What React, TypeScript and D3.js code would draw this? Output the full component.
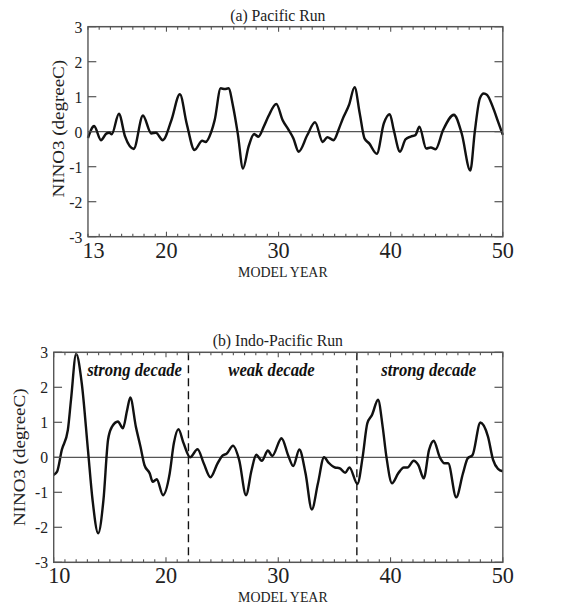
import React from "react";
import * as d3 from "d3";

const WIDTH = 565;
const HEIGHT = 606;
// the reference figure is a little narrower than it is drawn here
const SQUEEZE = 0.926;

// (a) Pacific Run
const pacificYears = [
  13.0, 13.55, 14.16, 14.65, 14.9, 15.12, 15.76, 16.31, 17.08, 17.9, 18.65, 19.06, 19.67,
  20.44, 21.2, 21.8, 22.5, 23.19, 23.5, 24.0, 24.3, 24.84, 25.2, 25.53, 25.95, 26.36, 26.83,
  27.32, 27.82, 28.2, 28.7, 29.11, 29.8, 30.36, 30.9, 31.32, 31.79, 32.56, 33.25, 33.94,
  34.35, 34.9, 35.4, 35.7, 36.28, 36.78, 37.24, 37.66, 38.07, 38.76, 39.39, 39.92, 40.27,
  40.83, 41.32, 41.79, 42.2, 42.56, 43.17, 43.58, 44.0, 44.68, 45.64, 46.33, 47.1, 47.5,
  47.95, 48.3, 48.6, 49.1, 49.57, 50.0,
];
const pacificValues = [
  -0.18, 0.16, -0.24, -0.05, -0.03, -0.07, 0.51, -0.14, -0.49, 0.46, -0.05, -0.03, -0.24,
  0.33, 1.07, 0.24, -0.52, -0.26, -0.29, 0.0, 0.33, 1.24, 1.22, 1.24, 0.71, -0.05, -1.05,
  -0.43, -0.07, -0.14, 0.16, 0.45, 0.79, 0.33, 0.05, -0.19, -0.57, -0.1, 0.27, -0.29,
  -0.16, -0.24, 0.1, 0.35, 0.76, 1.27, 0.52, -0.19, -0.33, -0.63, 0.24, 0.5, 0.05,
  -0.57, -0.22, -0.14, -0.1, 0.14, -0.48, -0.45, -0.5, 0.05, 0.48, -0.05, -1.11, 0.0,
  0.95, 1.09, 1.05, 0.71, 0.29, -0.09,
];

// (b) Indo-Pacific Run
const indoYears = [
  10.0, 10.3, 10.72, 11.26, 11.54, 12.0, 12.5, 13.05, 13.46, 13.96, 14.43, 14.84, 15.17,
  15.72, 16.16, 16.54, 16.82, 17.32, 17.73, 18.08, 18.55, 18.82, 19.18, 19.73, 20.33, 20.7,
  21.11, 21.57, 22.15, 22.81, 23.36, 23.96, 24.6, 25.01, 25.42, 25.97, 26.52, 27.13, 27.62,
  28.04, 28.53, 29.08, 29.46, 30.29, 30.92, 31.33, 31.88, 32.43, 32.99, 33.53, 34.08, 34.5,
  35.05, 35.46, 35.96, 36.34, 37.05, 37.52, 37.93, 38.35, 38.89, 39.3, 39.63, 40.13, 40.68,
  41.18, 41.51, 42.06, 42.47, 42.96, 43.43, 43.84, 44.39, 44.8, 45.13, 45.85, 46.45, 46.87,
  47.3, 48.0, 48.68, 49.13, 49.57, 50.0,
];
const indoValues = [
  -0.5, -0.41, 0.21, 0.78, 1.64, 2.95, 2.11, 0.21, -1.22, -2.17, -1.22, 0.5, 0.86,
  1.02, 0.83, 1.35, 1.71, 0.87, 0.3, -0.22, -0.46, -0.7, -0.63, -1.08, -0.46, 0.4,
  0.8, 0.4, 0.0, 0.23, -0.17, -0.57, -0.17, 0.04, 0.11, 0.33, -0.08, -1.08, -0.37,
  0.07, -0.1, 0.19, 0.04, 0.54, 0.02, -0.25, 0.22, -0.46, -1.49, -0.75, 0.0, -0.16,
  -0.29, -0.31, -0.44, -0.29, -0.76, 0.02, 0.97, 1.21, 1.64, 0.87, 0.02, -0.74, -0.46,
  -0.29, -0.29, -0.1, -0.22, -0.6, 0.21, 0.47, 0.0, -0.17, -0.17, -1.14, -0.46, -0.03,
  0.06, 0.99, 0.59, -0.07, -0.33, -0.4,
];

const pacificXTicks = [13, 20, 30, 40, 50];
const indoXTicks = [10, 20, 30, 40, 50];
const yTicks = [-3, -2, -1, 0, 1, 2, 3];

const decadeBreaks = [22, 37];
const decadeLabels = ["strong decade", "weak decade", "strong decade"];
const decadeCenters = [17.2, 29.4, 43.4];

const SERIF = "'Liberation Serif', 'Times New Roman', Times, serif";
const AXIS = "#555";

type PanelProps = {
  title: string;
  years: number[];
  values: number[];
  xDomain: [number, number];
  xTicks: number[];
  left: number;
  top: number;
  labelX: number;
  labelShift: number;
  showDecades?: boolean;
};

function Panel({ title, years, values, xDomain, xTicks, left, top, labelX, labelShift, showDecades }: PanelProps) {
  const right = 543;
  const h = 210;
  const x = d3.scaleLinear().domain(xDomain).range([left, right]);
  const y = d3.scaleLinear().domain([-3, 3]).range([top + h, top]);
  const pts = years.map((yr, i) => [yr, values[i]] as [number, number]);
  const line = d3
    .line<[number, number]>()
    .x((d) => x(d[0]))
    .y((d) => y(d[1]))
    .curve(d3.curveMonotoneX);
  const minor = d3.range(Math.ceil(xDomain[0]), xDomain[1] + 1);
  const midY = top + h / 2 + labelShift;

  return (
    <g>
      <text x={300} y={top - 6} textAnchor="middle" fontFamily={SERIF} fontSize={17} fill="#222">
        {title}
      </text>
      {/* zero line */}
      <line x1={left} x2={right} y1={y(0)} y2={y(0)} stroke={AXIS} strokeWidth={1.2} />
      {showDecades &&
        decadeBreaks.map((b) => (
          <line key={b} x1={x(b)} x2={x(b)} y1={top} y2={top + h} stroke="#111" strokeWidth={1.5} strokeDasharray="8,5" />
        ))}
      {showDecades &&
        decadeLabels.map((t, i) => (
          <text key={i} x={x(decadeCenters[i])} y={top + 24} textAnchor="middle" fontFamily={SERIF}
            fontSize={18} fontWeight="bold" fontStyle="italic" fill="#111">
            {t}
          </text>
        ))}
      <path d={line(pts) || ""} fill="none" stroke="#111" strokeWidth={2.6} strokeLinejoin="round" />
      {/* frame */}
      <rect x={left} y={top} width={right - left} height={h} fill="none" stroke={AXIS} strokeWidth={1.5} />
      {minor.map((m) => {
        const len = m % 10 === 0 ? 5 : 3;
        return (
          <g key={m}>
            <line x1={x(m)} x2={x(m)} y1={top + h} y2={top + h - len} stroke={AXIS} strokeWidth={1.2} />
            <line x1={x(m)} x2={x(m)} y1={top} y2={top + len} stroke={AXIS} strokeWidth={1.2} />
          </g>
        );
      })}
      {yTicks.map((t) => (
        <g key={t}>
          <line x1={left} x2={left + 9} y1={y(t)} y2={y(t)} stroke={AXIS} strokeWidth={1.2} />
          <line x1={right} x2={right - 9} y1={y(t)} y2={y(t)} stroke={AXIS} strokeWidth={1.2} />
          <text x={left - 6} y={y(t) + 6} textAnchor="end" fontFamily={SERIF} fontSize={17} fill="#222">
            {t}
          </text>
        </g>
      ))}
      {xTicks.map((t, i) => (
        <text key={t} x={x(i === 0 ? t + 0.5 : t)} y={top + h + 21} textAnchor="middle" fontFamily={SERIF}
          fontSize={24} fill="#222">
          {t}
        </text>
      ))}
      <text x={305.5} y={top + h + 40} textAnchor="middle" fontFamily={SERIF} fontSize={15} fill="#222">
        MODEL YEAR
      </text>
      <text transform={`translate(${labelX},${midY}) rotate(-90)`} textAnchor="middle" fontFamily={SERIF}
        fontSize={19} fill="#222">
        NINO3 (degreeC)
      </text>
    </g>
  );
}

export default function App() {
  return (
    <svg width={WIDTH} height={HEIGHT} style={{ position: "absolute", left: 0, top: 0, background: "#fff" }}>
      <g transform={`scale(${SQUEEZE},1)`}>
        <Panel title="(a) Pacific Run" years={pacificYears} values={pacificValues} xDomain={[13, 50]}
          xTicks={pacificXTicks} left={95} top={26.7} labelX={69} labelShift={-3} />
        <Panel title="(b) Indo-Pacific Run" years={indoYears} values={indoValues} xDomain={[10, 50]}
          xTicks={indoXTicks} left={58} top={352.3} labelX={27} labelShift={0} showDecades />
      </g>
    </svg>
  );
}
